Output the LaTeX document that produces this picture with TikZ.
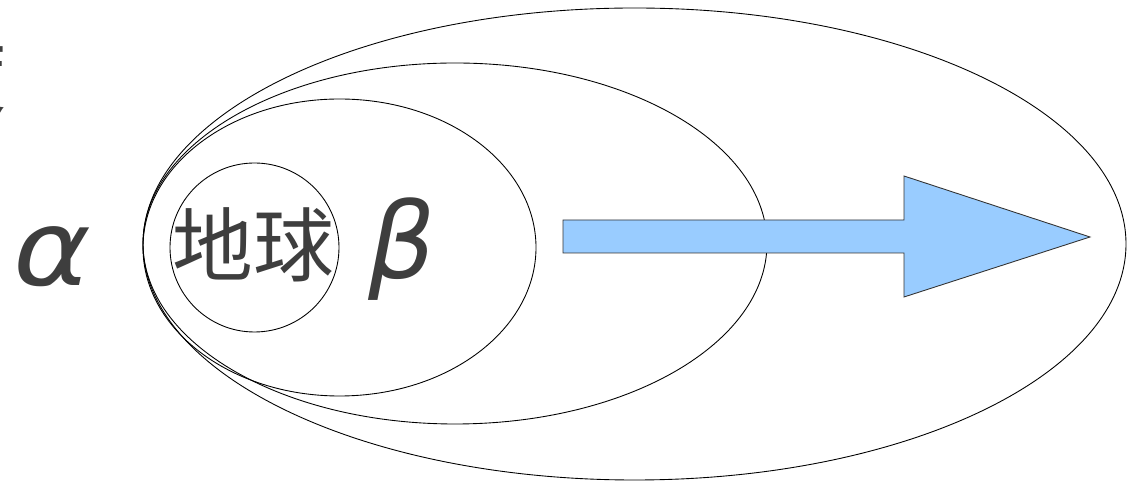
\documentclass[tikz,border=0pt]{standalone}
\usepackage{fontspec}
\usetikzlibrary{positioning}
\newfontfamily\cjkfont{Noto Sans CJK SC}
\newfontfamily\greekfont{DejaVu Sans}
\definecolor{inkgray}{RGB}{62,62,62}
\definecolor{arrowblue}{RGB}{153,204,255}
\tikzstyle{orbit} = [draw=black, line width=0.5pt]
\tikzstyle{cjklabel} = [inner sep=0pt, text=inkgray, font=\cjkfont\fontsize{46}{50}\selectfont]
\tikzstyle{greeklabel} = [inner sep=0pt, text=inkgray, font=\greekfont\itshape\fontsize{60}{64}\selectfont]
\tikzstyle{bigarrow} = [draw=black!80, line width=0.5pt, fill=arrowblue]

\begin{document}
\begin{tikzpicture}[x=0.02cm, y=-0.02cm]

% frame of the page
\useasboundingbox (0,0) rectangle (1134,482);
\clip (0,0) rectangle (1134,482);

% ==========================================
% NESTED ORBITS
% ==========================================
\draw[orbit] (634.5,244) ellipse [x radius=491.5, y radius=236];
\draw[orbit] (455,243.5) ellipse [x radius=312, y radius=180.5];
\draw[orbit] (339.5,247.5) ellipse [x radius=196.5, y radius=148.5];
\draw[orbit] (254.5,247.5) circle [radius=84.5];

% ==========================================
% LABELS
% ==========================================
\node[cjklabel] (earth) at (253.5,244.5) {地球};
\node[cjklabel, anchor=east] (deg) at (8,76) {度};
\node[greeklabel, xscale=1.12] (alpha) at (52.5,256.5) {α};
\node[greeklabel] (beta) at (402.5,249.5) {β};

% ==========================================
% ARROW
% ==========================================
\draw[bigarrow] (563,220) -- (904,220) -- (904,176) -- (1090,237)
  -- (904,297) -- (904,253) -- (563,253) -- cycle;

\end{tikzpicture}
\end{document}
